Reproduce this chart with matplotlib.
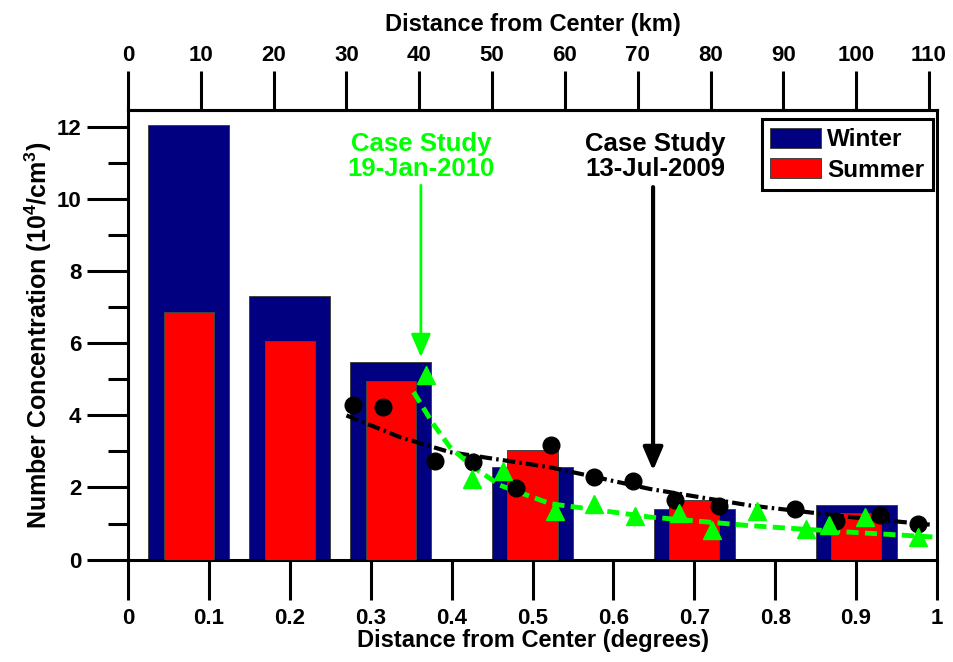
import numpy as np
import matplotlib
matplotlib.use('Agg')
import matplotlib.pyplot as plt
from matplotlib.patches import Patch

plt.rcParams['font.family'] = ['Liberation Sans', 'DejaVu Sans']
plt.rcParams['font.weight'] = 'bold'
plt.rcParams['axes.labelweight'] = 'bold'
plt.rcParams['mathtext.fontset'] = 'custom'
plt.rcParams['mathtext.rm'] = 'Liberation Sans:bold'
plt.rcParams['mathtext.default'] = 'rm'

# seasonal mean bars (distance in degrees)
bin_x = [0.075, 0.2, 0.325, 0.5, 0.7, 0.9]
winter = [12.06, 7.31, 5.48, 2.56, 1.39, 1.50]
summer = [6.87, 6.06, 4.97, 3.05, 1.66, 1.29]

# case study 13-Jul-2009 (black circles)
jul_x = [0.278, 0.315, 0.379, 0.427, 0.479, 0.523, 0.576, 0.624, 0.676, 0.731, 0.824, 0.875, 0.929, 0.976]
jul_y = [4.30, 4.23, 2.73, 2.70, 1.99, 3.19, 2.29, 2.19, 1.66, 1.48, 1.41, 1.08, 1.25, 0.99]
jul_fit_x = [0.270, 0.336, 0.398, 0.522, 0.645, 0.769, 0.892, 0.991]
jul_fit_y = [4.00, 3.40, 2.98, 2.56, 1.96, 1.50, 1.18, 0.97]

# case study 19-Jan-2010 (green triangles)
jan_x = [0.368, 0.425, 0.464, 0.528, 0.576, 0.627, 0.681, 0.722, 0.778, 0.838, 0.866, 0.911, 0.977]
jan_y = [5.11, 2.24, 2.47, 1.36, 1.55, 1.22, 1.29, 0.82, 1.34, 0.85, 0.97, 1.19, 0.62]
jan_fit_x = [0.353, 0.377, 0.398, 0.427, 0.460, 0.522, 0.645, 0.769, 0.892, 1.0]
jan_fit_y = [4.65, 3.77, 3.12, 2.56, 2.06, 1.55, 1.18, 0.94, 0.76, 0.62]

km_per_deg = 111.1
km_ticks = np.arange(0, 111, 10)

green = '#00ff00'
navy = '#000080'
red = '#ff0000'
lw = 2.2

fig = plt.figure(figsize=(9.54, 6.62), dpi=100)
ax = fig.add_axes([0.1342, 0.1548, 0.848, 0.679])

ax.bar(bin_x, winter, width=0.1, color=navy, edgecolor='#444444', linewidth=0.7, zorder=2)
ax.bar(bin_x, summer, width=0.062, color=red, edgecolor='#444444', linewidth=0.7, zorder=3)

ax.plot(jul_fit_x, jul_fit_y, color='black', lw=3, dashes=(3, 1, 0.6, 1), zorder=4)
ax.plot(jan_fit_x, jan_fit_y, color=green, lw=3.5, dashes=(2.5, 1.3), zorder=4)
ax.plot(jul_x, jul_y, 'o', color='black', ms=12, zorder=5)
ax.plot(jan_x, jan_y, '^', color=green, ms=13, zorder=6)

# case study annotations
ax.annotate('', xy=(0.362, 5.62), xytext=(0.362, 10.39),
            arrowprops=dict(arrowstyle='-|>,head_length=1.4,head_width=0.6',
                            color=green, lw=2, mutation_scale=10, shrinkA=0, shrinkB=0))
ax.text(0.362, 11.2, 'Case Study\n19-Jan-2010', color=green, fontsize=18.5,
        ha='center', va='center', linespacing=1.05)
ax.annotate('', xy=(0.649, 2.47), xytext=(0.649, 10.34),
            arrowprops=dict(arrowstyle='-|>,head_length=1.4,head_width=0.6',
                            color='black', lw=3, mutation_scale=10, shrinkA=0, shrinkB=0))
ax.text(0.652, 11.2, 'Case Study\n13-Jul-2009', color='black', fontsize=18.5,
        ha='center', va='center', linespacing=1.05)

ax.set_xlim(0, 1)
ax.set_ylim(0, 12.48)
ax.set_xticks(np.arange(0, 1.01, 0.1))
ax.set_xticklabels(['0', '0.1', '0.2', '0.3', '0.4', '0.5', '0.6', '0.7', '0.8', '0.9', '1'])
ax.set_yticks(np.arange(0, 13, 2))
ax.set_yticks(np.arange(1, 13, 2), minor=True)

for s in ax.spines.values():
    s.set_linewidth(lw)
ax.tick_params(axis='x', which='major', direction='out', length=28.8, width=lw,
               labelsize=16, pad=6)
ax.tick_params(axis='y', which='major', direction='out', length=29.5, width=lw,
               labelsize=16, pad=4)
ax.tick_params(axis='y', which='minor', direction='out', length=14.4, width=lw)

ax.set_xlabel('Distance from Center (degrees)', fontsize=17, labelpad=0)
ax.set_ylabel('Number Concentration (10$^4$/cm$^3$)', fontsize=18, labelpad=2)

top = ax.secondary_xaxis('top', functions=(lambda d: d * km_per_deg, lambda k: k / km_per_deg))
top.set_xticks(km_ticks)
top.spines['top'].set_linewidth(lw)
top.tick_params(direction='out', length=28, width=lw, labelsize=16, pad=4)
top.set_xlabel('Distance from Center (km)', fontsize=17, labelpad=10)

handles = [Patch(facecolor=navy, edgecolor='#444444', linewidth=0.7, label='Winter'),
           Patch(facecolor=red, edgecolor='#444444', linewidth=0.7, label='Summer')]
leg = ax.legend(handles=handles, loc='upper right', bbox_to_anchor=(0.995, 0.98),
                borderaxespad=0, fontsize=17.5, handlelength=2.1, handleheight=0.9,
                handletextpad=0.25, labelspacing=0.3, borderpad=0.35,
                fancybox=False, framealpha=1, edgecolor='black')
leg.get_frame().set_linewidth(2.2)
leg.set_zorder(10)

fig.savefig('out.png', dpi=100)
